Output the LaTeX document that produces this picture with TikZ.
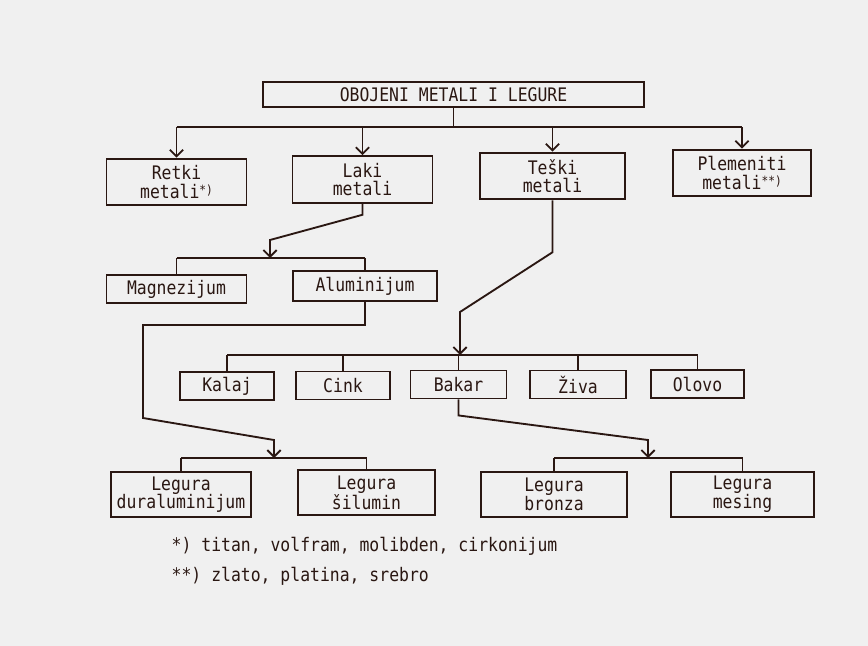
\documentclass[tikz,border=0pt]{standalone}
\usepackage{fontspec}
\setmainfont[FakeStretch=0.88]{DejaVu Sans Mono}
\usetikzlibrary{arrows.meta}
\definecolor{ink}{HTML}{2A1712}
\definecolor{paper}{HTML}{F0F0F0}
\newcommand{\fnmark}[1]{\raisebox{3pt}{\fontsize{9.5}{9.5}\selectfont #1}}
\tikzset{
  box/.style={draw=ink, line width=1.4pt, inner sep=0pt, align=center,
    text=ink, font=\fontsize{14}{14}\selectfont},
  wbox/.style={box, minimum width=105pt, minimum height=35pt},
  nbox/.style={box, minimum width=70pt, minimum height=21pt},
  line/.style={draw=ink, line width=1.4pt},
  arr/.style={line, -{Straight Barb[length=5pt,width=10pt]}},
  note/.style={anchor=base west, text=ink, font=\fontsize{14}{16}\selectfont}
}
\begin{document}
\begin{tikzpicture}[x=0.75pt,y=-0.75pt]

% Background
\fill[paper] (0,0) rectangle (868,646);
\useasboundingbox (0,0) rectangle (868,646);

% Title
\node[box, minimum width=286pt, minimum height=19pt] (title) at (453.5,94.5) {OBOJENI METALI I LEGURE};

% Main groups
\node[wbox] (retki) at (176.5,182) {Retki\\metali\fnmark{*)}};
\node[wbox] (laki) at (362.5,179.5) {Laki\\metali};
\node[wbox, minimum width=109pt] (teski) at (552.5,176) {Teški\\metali};
\node[wbox, minimum width=104pt] (plem) at (742,173) {Plemeniti\\metali\fnmark{**)}};

% Light metals
\node[wbox, minimum height=21pt] (magn) at (176.5,289) {Magnezijum};
\node[wbox, minimum width=108pt, minimum height=22pt] (alum) at (365,286) {Aluminijum};

% Heavy metals
\node[nbox] (kalaj) at (227,386) {Kalaj};
\node[nbox] (cink) at (343,385.5) {Cink};
\node[nbox, minimum width=72pt] (bakar) at (458.5,384.5) {Bakar};
\node[nbox, minimum width=72pt] (ziva) at (578,384.5) {Živa};
\node[nbox] (olovo) at (697.5,384) {Olovo};

% Alloys
\node[wbox, minimum height=34pt] (dural) at (181,494.5) {Legura\\duraluminijum};
\node[wbox, minimum width=103pt, minimum height=34pt] (silum) at (366.5,492.5) {Legura\\šilumin};
\node[wbox, minimum width=110pt, minimum height=34pt] (bronza) at (554,494.5) {Legura\\bronza};
\node[wbox, minimum width=107pt, minimum height=34pt] (mesing) at (742.5,494.5) {Legura\\mesing};

% Footnotes
\node[note] (foot1) at (167,551) {*) titan, volfram, molibden, cirkonijum};
\node[note] (foot2) at (167,581) {**) zlato, platina, srebro};

% Bend points
\coordinate (bus1) at (456,127);
\coordinate (k1) at (270,240);
\coordinate (bus2) at (270,258);
\coordinate (a1) at (143,325);
\coordinate (a2) at (143,418);
\coordinate (a3) at (274,440);
\coordinate (bus3) at (274,458);
\coordinate (t1) at (460,312);
\coordinate (bus4) at (460,355);
\coordinate (b1) at (648,440);
\coordinate (bus5) at (648,458);

% Title to groups
\draw[line] (title.south) -- (title.south |- bus1);
\draw[line] (retki.north |- bus1) -- (plem.north |- bus1);
\foreach \n in {retki,laki,teski,plem}
  \draw[arr] (\n.north |- bus1) -- (\n.north);

% Laki metali
\draw[arr] (laki.south) -- ++(0,11) -- (k1) -- (bus2);
\draw[line] (magn.north |- bus2) -- (alum.north |- bus2);
\foreach \n in {magn,alum}
  \draw[line] (\n.north |- bus2) -- (\n.north);

% Aluminijum to alloys
\draw[arr] (alum.south) -- (alum.south |- a1) -- (a1) -- (a2) -- (a3) -- (bus3);
\draw[line] (dural.north |- bus3) -- (silum.north |- bus3);
\foreach \n in {dural,silum}
  \draw[line] (\n.north |- bus3) -- (\n.north);

% Teski metali
\draw[arr] (teski.south) -- ++(0,52) -- (t1) -- (bus4);
\draw[line] (kalaj.north |- bus4) -- (olovo.north |- bus4);
\foreach \n in {kalaj,cink,bakar,ziva,olovo}
  \draw[line] (\n.north |- bus4) -- (\n.north);

% Bakar to alloys
\draw[arr] (bakar.south) -- ++(0,16) -- (b1) -- (bus5);
\draw[line] (bronza.north |- bus5) -- (mesing.north |- bus5);
\foreach \n in {bronza,mesing}
  \draw[line] (\n.north |- bus5) -- (\n.north);

\end{tikzpicture}
\end{document}
